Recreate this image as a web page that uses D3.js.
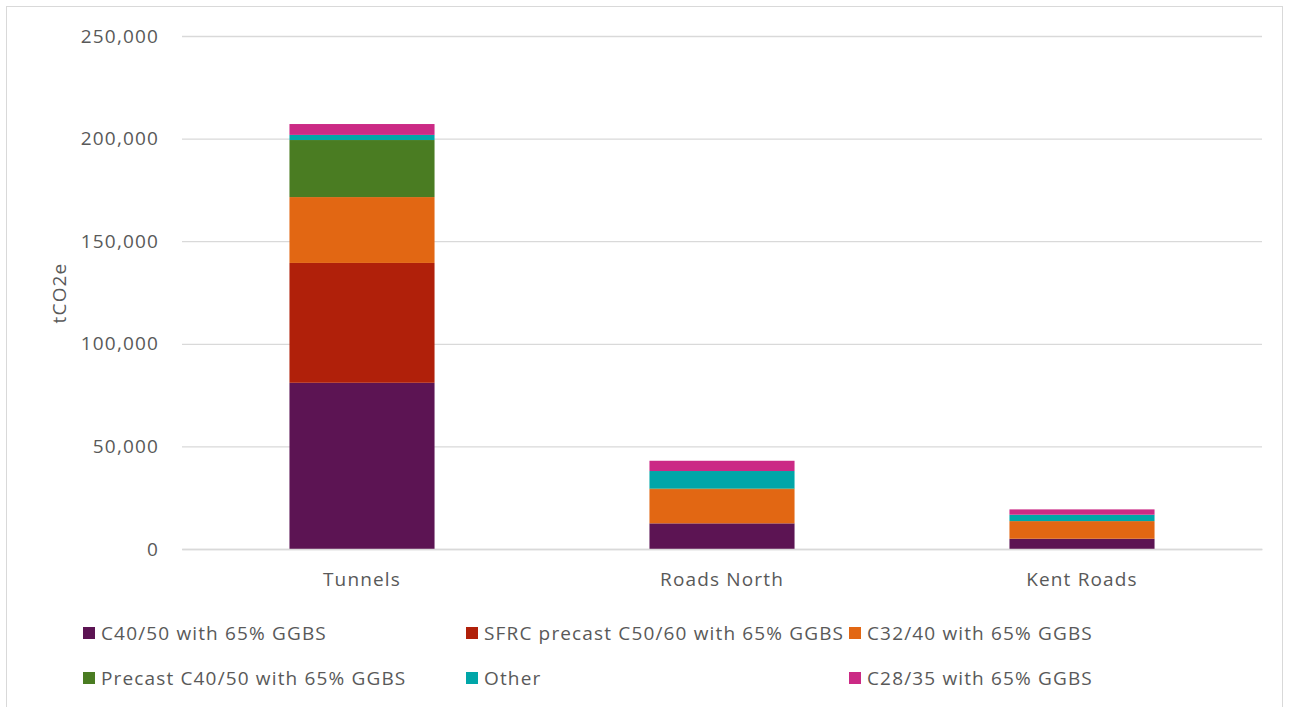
<!DOCTYPE html>
<html><head><meta charset="utf-8">
<script src="https://cdn.jsdelivr.net/npm/d3@7"></script>
<style>body{margin:0;background:#fff}svg{display:block}text{font-family:"Open Sans",sans-serif;fill:#595959;letter-spacing:1.15px}</style>
</head><body>
<script>
const categories = ["Tunnels", "Roads North", "Kent Roads"];
const seriesNames = ["C40/50 with 65% GGBS", "SFRC precast C50/60 with 65% GGBS", "C32/40 with 65% GGBS", "Precast C40/50 with 65% GGBS", "Other", "C28/35 with 65% GGBS"];
const seriesColors = ["#5C1453", "#B0200A", "#E26713", "#4A7C22", "#00A6A8", "#CB2A85"];
const c4050 = [81000, 12500, 5000];
const sfrc = [58400, 0, 0];
const c3240 = [32100, 16700, 8600];
const precast = [27800, 300, 0];
const other = [2500, 8500, 3100];
const c2835 = [5300, 5000, 2600];
const yTicks = [0, 50000, 100000, 150000, 200000, 250000];

const W = 1289, H = 707;
const FS = 19;
const svg = d3.select("body").append("svg").attr("width", W).attr("height", H);
svg.append("rect").attr("x", 6.5).attr("y", 6.5).attr("width", 1276).attr("height", 720)
  .attr("fill", "#fff").attr("stroke", "#D9D9D9");

const plot = {left: 182, right: 1262, top: 36, bottom: 549};
const x = d3.scaleBand().domain(categories).range([plot.left, plot.right]).paddingInner(0.597).paddingOuter(0.2985);
const y = d3.scaleLinear().domain([0, 250000]).range([plot.bottom, plot.top]);

const fmt = d3.format(",");
const yAxis = svg.append("g").attr("transform", `translate(${plot.left},0)`)
  .call(d3.axisLeft(y).tickValues(yTicks).tickFormat(fmt).tickSize(-(plot.right - plot.left)).tickPadding(23));
yAxis.select(".domain").remove();
yAxis.selectAll(".tick line").attr("stroke", "#D9D9D9").attr("stroke-width", 1.3);
yAxis.selectAll(".tick text").attr("font-size", FS).attr("fill", "#595959").style("font-family", "Open Sans");

const rows = categories.map((c, i) => ({cat: c, v: [c4050[i], sfrc[i], c3240[i], precast[i], other[i], c2835[i]]}));
const stacked = d3.stack().keys(d3.range(seriesNames.length)).value((d, k) => d.v[k])(rows);

stacked.forEach((layer, k) => {
  svg.append("g").selectAll("rect").data(layer).join("rect")
    .attr("x", d => x(d.data.cat))
    .attr("width", x.bandwidth())
    .attr("y", d => y(d[1]))
    .attr("height", d => Math.max(0, y(d[0]) - y(d[1])))
    .attr("fill", seriesColors[k]);
});

const xAxis = svg.append("g").attr("transform", `translate(0,${plot.bottom})`)
  .call(d3.axisBottom(x).tickSize(0).tickPadding(24));
xAxis.select(".domain").attr("stroke", "#D9D9D9").attr("stroke-width", 1.3);
xAxis.selectAll(".tick text").attr("font-size", FS).attr("fill", "#595959").style("font-family", "Open Sans");

svg.append("text").attr("transform", "translate(66,293) rotate(-90)")
  .attr("text-anchor", "middle").attr("font-size", FS).text("tCO2e");

const legendPos = [[83, 633], [466, 633], [849, 633], [83, 678], [466, 678], [849, 678]];
const lg = svg.append("g").selectAll("g").data(seriesNames).join("g")
  .attr("transform", (d, i) => `translate(${legendPos[i][0]},${legendPos[i][1]})`);
lg.append("rect").attr("x", 0).attr("y", -6).attr("width", 12).attr("height", 12).attr("fill", (d, i) => seriesColors[i]);
lg.append("text").attr("x", 18).attr("y", 0).attr("dy", "0.35em").attr("font-size", FS).text(d => d);
</script>
</body></html>
